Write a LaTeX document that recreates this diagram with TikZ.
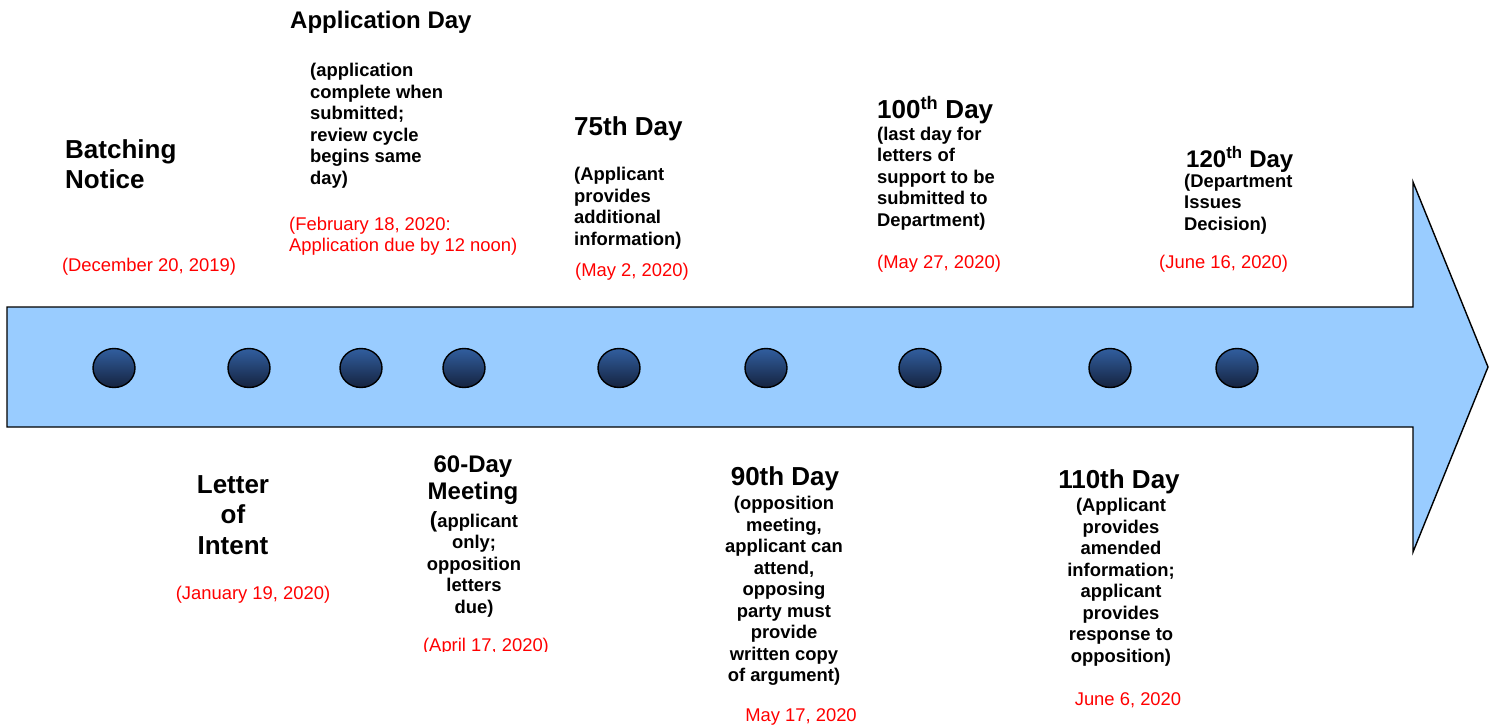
\documentclass[tikz,border=0pt]{standalone}
\usepackage{fontspec}
\setmainfont{Liberation Sans}
\usetikzlibrary{shapes.geometric}
\definecolor{arrowblue}{HTML}{99CCFF}
\definecolor{dottop}{HTML}{315E9F}
\definecolor{dotbot}{HTML}{15233F}
\definecolor{datered}{HTML}{FF0000}
\begin{document}
\begin{tikzpicture}[x=1pt,y=-1pt,
  bigtitle/.style={font=\fontsize{26}{30}\selectfont\bfseries, inner sep=0pt},
  midtitle/.style={font=\fontsize{24}{27}\selectfont\bfseries, inner sep=0pt},
  body/.style={font=\fontsize{18.4}{21.5}\selectfont\bfseries, inner sep=0pt},
  datetext/.style={font=\fontsize{18.4}{21.5}\selectfont, text=datered, inner sep=0pt},
  timearrow/.style={draw=black, line width=1.4pt, fill=arrowblue, line join=miter},
  dot/.style={ellipse, draw=black, line width=1.4pt, top color=dottop, bottom color=dotbot, minimum width=42pt, minimum height=39pt, inner sep=0pt}
]
\useasboundingbox (0,0) rectangle (1494,726);

% arrow
\draw[timearrow] (7,307) -- (1413,307) -- (1413,182) -- (1488,367) -- (1413,552) -- (1413,427) -- (7,427) -- cycle;

% dots
\node[dot] (d1) at (114,368) {};
\node[dot] (d2) at (249,368) {};
\node[dot] (d3) at (361,368) {};
\node[dot] (d4) at (464,368) {};
\node[dot] (d5) at (619,368) {};
\node[dot] (d6) at (766,368) {};
\node[dot] (d7) at (920,368) {};
\node[dot] (d8) at (1110,368) {};
\node[dot] (d9) at (1237,368) {};

\begin{scope}[yshift=-2pt]
% Batching Notice
\node[bigtitle, anchor=west, align=left] (t1) at (65,162) {Batching\\Notice};
\node[datetext] (dt1) at (149,265) {(December 20, 2019)};

% Application Day
\node[midtitle, anchor=west] (t2) at (290,20) {Application Day};
\node[body, anchor=west, align=left] (b2) at (310,123.5) {(application\\complete when\\submitted;\\review cycle\\begins same\\day)};
\node[datetext, anchor=west, align=left] (dt2) at (289,234) {(February 18, 2020:\\Application due by 12 noon)};

% 75th Day
\node[bigtitle, anchor=west] (t3) at (574,127) {75th Day};
\node[body, anchor=west, align=left] (b3) at (574,206) {(Applicant\\provides\\additional\\information)};
\node[datetext, anchor=west] (dt3) at (575,270) {(May 2, 2020)};

% 100th Day
\node[bigtitle, anchor=west] (t4) at (877,108) {100\textsuperscript{th} Day};
\node[body, anchor=west, align=left] (b4) at (877,176.5) {(last day for\\letters of\\support to be\\submitted to\\Department)};
\node[datetext, anchor=west] (dt4) at (877,262) {(May 27, 2020)};

% 120th Day
\node[midtitle, anchor=west] (t5) at (1186,157) {120\textsuperscript{th} Day};
\node[body, anchor=west, align=left] (b5) at (1184,202) {(Department\\Issues\\Decision)};
\node[datetext, anchor=west] (dt5) at (1159,262) {(June 16, 2020)};

% Letter of Intent
\node[font=\fontsize{26}{30.5}\selectfont\bfseries, inner sep=0pt, align=center] (t6) at (233,513) {Letter\\of\\Intent};
\node[datetext] (dt6) at (253,593) {(January 19, 2020)};

% 60-Day Meeting
\node[midtitle, align=center] (t7) at (473,478.5) {60-Day\\Meeting};
\node[body, align=center] (b7) at (474,562) {{\fontsize{22}{21.5}\selectfont(}applicant\\only;\\opposition\\letters\\due)};

% 90th Day
\node[bigtitle] (t8) at (785,477) {90th Day};
\node[body, align=center] (b8) at (784,589) {(opposition\\meeting,\\applicant can\\attend,\\opposing\\party must\\provide\\written copy\\of argument)};
\node[datetext] (dt8) at (801,715) {May 17, 2020};

% 110th Day
\node[bigtitle] (t9) at (1119,480) {110th Day};
\node[body, align=center] (b9) at (1121,580) {(Applicant\\provides\\amended\\information;\\applicant\\provides\\response to\\opposition)};
\node[datetext] (dt9) at (1128,698) {June 6, 2020};
\end{scope}

\begin{scope}
\clip (380,620) rectangle (600,651);
\node[datetext] (dt7) at (486,647) {(April 17, 2020)};
\end{scope}

\end{tikzpicture}
\end{document}
